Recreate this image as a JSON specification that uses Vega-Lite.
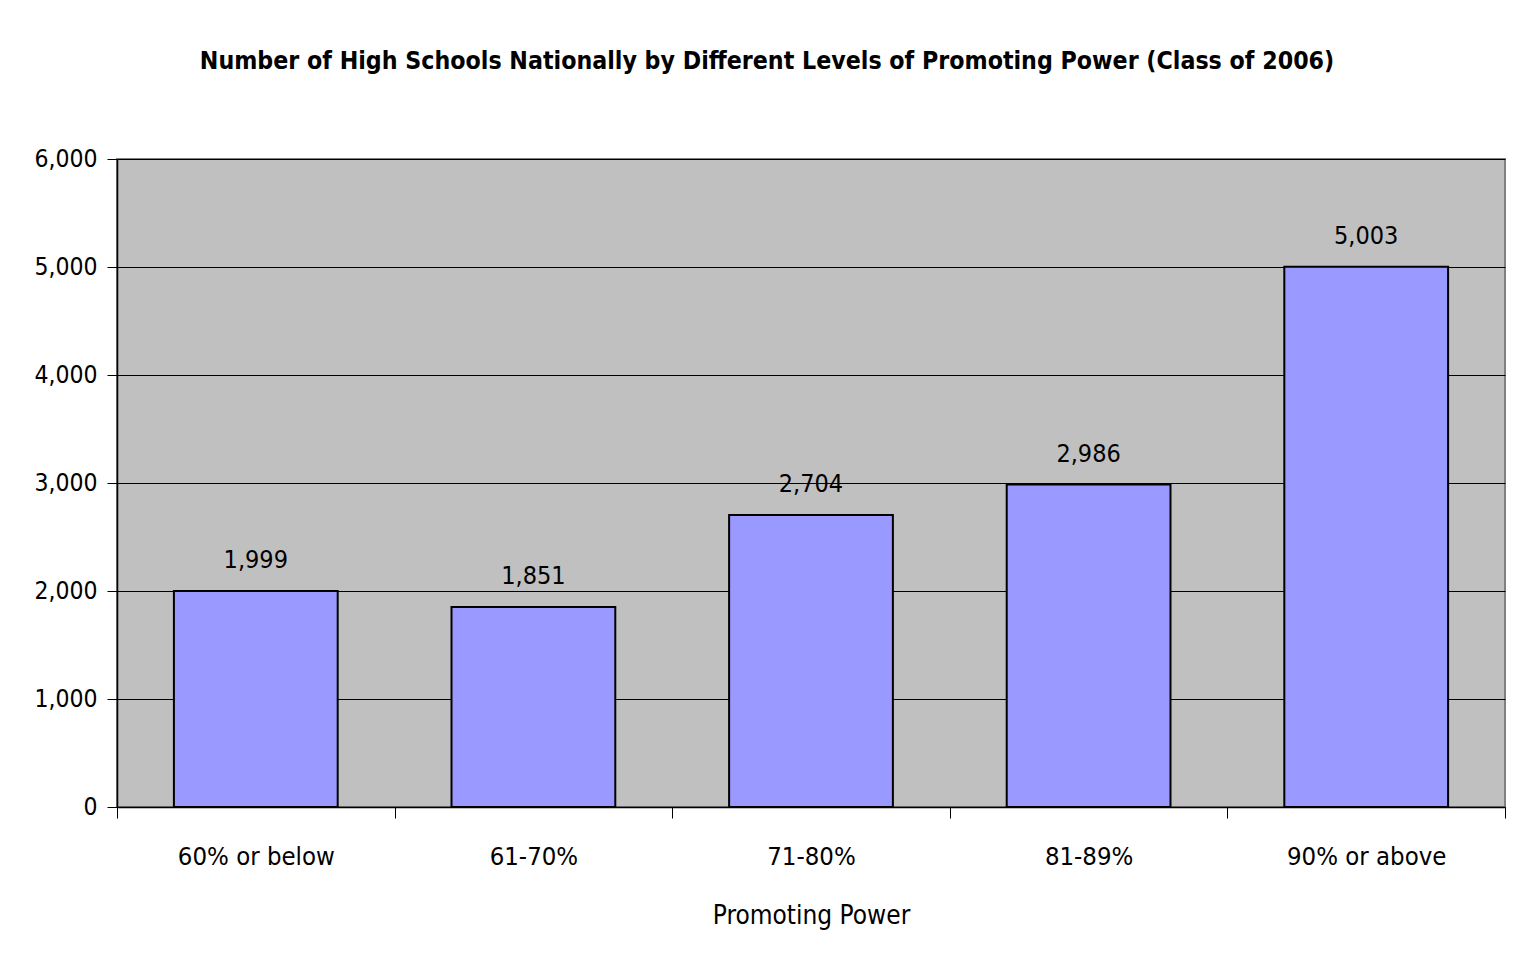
{
  "$schema": "https://vega.github.io/schema/vega-lite/v6.json",
  "width": 1388,
  "height": 648,
  "autosize": {"type": "none"},
  "padding": {"left": 117, "top": 159, "right": 11, "bottom": 161},
  "background": "white",
  "title": {
    "text": "Number of High Schools Nationally by Different Levels of Promoting Power (Class of 2006)",
    "font": "'Liberation Sans Narrow', 'DejaVu Sans Condensed', 'Liberation Sans', sans-serif",
    "fontSize": 24.7,
    "fontWeight": "bold",
    "color": "black",
    "anchor": "middle",
    "frame": "group",
    "dx": -44,
    "offset": 72
  },
  "config": {
    "view": {"fill": "#C0C0C0", "stroke": "#808080", "strokeWidth": 2},
    "font": "'Liberation Sans Narrow', 'DejaVu Sans Condensed', 'Liberation Sans', sans-serif"
  },
  "data": {
    "values": [
      {"level": "60% or below", "count": 1999},
      {"level": "61-70%", "count": 1851},
      {"level": "71-80%", "count": 2704},
      {"level": "81-89%", "count": 2986},
      {"level": "90% or above", "count": 5003}
    ]
  },
  "encoding": {
    "x": {
      "field": "level",
      "type": "nominal",
      "sort": null,
      "scale": {"paddingInner": 0, "paddingOuter": 0},
      "axis": {
        "title": "Promoting Power",
        "titleFont": "'Liberation Sans Narrow', 'DejaVu Sans Condensed', 'Liberation Sans', sans-serif",
        "titleFontSize": 26,
        "titleFontWeight": "normal",
        "titleColor": "black",
        "titlePadding": 33,
        "labelAngle": 0,
        "labelFont": "'Liberation Sans Narrow', 'DejaVu Sans Condensed', 'Liberation Sans', sans-serif",
        "labelFontSize": 25.5,
        "labelColor": "black",
        "labelPadding": 26,
        "tickBand": "extent",
        "tickSize": 11,
        "tickColor": "black",
        "domainColor": "black",
        "domainWidth": 1.5,
        "grid": false
      }
    },
    "y": {
      "field": "count",
      "type": "quantitative",
      "scale": {"domain": [0, 6000], "nice": false},
      "axis": {
        "title": null,
        "values": [0, 1000, 2000, 3000, 4000, 5000, 6000],
        "format": ",d",
        "labelFont": "'Liberation Sans Narrow', 'DejaVu Sans Condensed', 'Liberation Sans', sans-serif",
        "labelFontSize": 24.5,
        "labelColor": "black",
        "labelPadding": 10,
        "tickSize": 10,
        "tickColor": "black",
        "domainColor": "black",
        "domainWidth": 1.5,
        "grid": true,
        "gridColor": "black",
        "gridWidth": 1
      }
    }
  },
  "layer": [
    {
      "mark": {"type": "bar", "width": {"band": 0.59}, "fill": "#9999FF", "stroke": "black", "strokeWidth": 2}
    },
    {
      "mark": {
        "type": "text",
        "font": "'Liberation Sans Narrow', 'DejaVu Sans Condensed', 'Liberation Sans', sans-serif",
        "fontSize": 25,
        "color": "black",
        "baseline": "alphabetic",
        "dy": -23
      },
      "encoding": {
        "text": {"field": "count", "type": "quantitative", "format": ",d"}
      }
    }
  ]
}
